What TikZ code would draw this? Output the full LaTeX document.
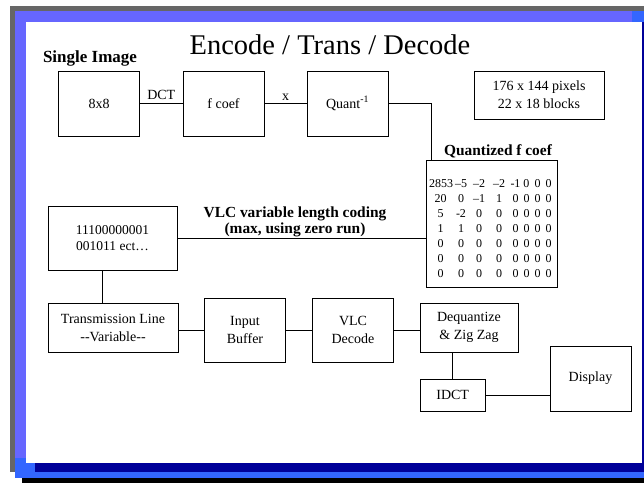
\documentclass[tikz,border=0pt]{standalone}
\usepackage{fontspec}
\setmainfont{Liberation Serif}
\usepackage{array}
\usetikzlibrary{positioning}
\newcolumntype{C}[1]{>{\centering\arraybackslash}p{#1}}
\definecolor{framegray}{RGB}{102,102,102}
\definecolor{framelilac}{RGB}{102,102,255}
\definecolor{frameblue}{RGB}{51,102,255}
\definecolor{framenavy}{RGB}{0,0,153}

\begin{document}
\begin{tikzpicture}[x=1pt, y=-1pt, line width=0.9pt,
  blk/.style={draw, inner sep=0pt, align=center, font=\fontsize{14}{18}\selectfont},
  lbl/.style={font=\fontsize{14}{17}\selectfont, inner sep=3pt},
  head/.style={anchor=base, font=\bfseries\fontsize{15.4}{19}\selectfont}]
  \useasboundingbox (0,0) rectangle (644,483);
  \fill[white] (0,0) rectangle (644,483);
  \fill[framegray] (10,6) rectangle (644,472);
  \fill[frameblue] (15,11) rectangle (644,478);
  \fill[framelilac] (15,11) rectangle (632,458);
  \fill[framenavy] (35,22) rectangle (644,472);
  \fill[black] (22,478) rectangle (644,483);
  \fill[white] (26,22) rectangle (642,463);

  \node[anchor=base, font=\fontsize{28.5}{32}\selectfont] (title) at (330,54) {Encode / Trans / Decode};
  \node[head, font=\bfseries\fontsize{17}{20}\selectfont] (single) at (90,62) {Single Image};

  \node[blk, minimum width=81, minimum height=65] (img) at (99,103.5) {8x8};
  \node[blk, minimum width=81, minimum height=65] (fcoef) at (223.5,103.5) {f coef};
  \node[blk, minimum width=81, minimum height=65] (quant) at (347.5,103.5) {Quant\textsuperscript{-1}};
  \node[blk, minimum width=130, minimum height=48] (dims) at (539,95) {176 x 144 pixels\\22 x 18 blocks};

  \node[head] (qlabel) at (498,155) {Quantized f coef};
  \node[draw, inner sep=0pt, minimum width=131, minimum height=127,
        font=\fontsize{12}{15}\selectfont] (qmat) at (491.5,223.5) {%
    \begin{tabular}{@{}C{23pt}@{}C{18pt}@{}C{18pt}@{}C{22pt}@{}C{11pt}@{}C{11pt}@{}C{11pt}@{}C{11pt}@{}}
      \noalign{\vskip 12pt}
      2853 & –5 & –2 & –2 & -1 & 0 & 0 & 0\\
      20 & 0 & –1 & 1 & 0 & 0 & 0 & 0\\
      5 & -2 & 0 & 0 & 0 & 0 & 0 & 0\\
      1 & 1 & 0 & 0 & 0 & 0 & 0 & 0\\
      0 & 0 & 0 & 0 & 0 & 0 & 0 & 0\\
      0 & 0 & 0 & 0 & 0 & 0 & 0 & 0\\
      0 & 0 & 0 & 0 & 0 & 0 & 0 & 0
    \end{tabular}};

  \node[blk, minimum width=129, minimum height=64, font=\fontsize{13.5}{16}\selectfont] (bits) at (112.5,238) {11100000001\\001011 ect\ldots};
  \node[head] (vlc1) at (295,217) {VLC variable length coding};
  \node[head] (vlc2) at (295,233) {(max, using zero run)};

  \node[blk, minimum width=130, minimum height=49] (trans) at (113,327.5) {Transmission Line\\-{}-Variable-{}-};
  \node[blk, minimum width=81.5, minimum height=64] (inbuf) at (245,330) {Input\\Buffer};
  \node[blk, minimum width=81, minimum height=64] (vlcdec) at (353,330) {VLC\\Decode};
  \node[blk, minimum width=98, minimum height=49] (deq) at (469,327.5) {Dequantize\\\& Zig Zag};
  \node[blk, minimum width=65.5, minimum height=32] (idct) at (452.7,395) {IDCT};
  \node[blk, minimum width=81, minimum height=65] (disp) at (590.5,378.5) {Display};

  \draw (img) -- node[lbl, above] {DCT} (fcoef);
  \draw (fcoef) -- node[lbl, above] {x} (quant);
  \draw (quant.east) -| ([xshift=5.5pt]qmat.north west);
  \draw (bits.east) -- (bits.east -| qmat.west);
  \draw ([xshift=-10.5pt]bits.south) -- ([xshift=-10.5pt]bits.south |- trans.north);
  \draw (inbuf.west) -- (inbuf.west -| trans.east);
  \draw (inbuf) -- (vlcdec);
  \draw (vlcdec.east) -- (vlcdec.east -| deq.west);
  \draw (idct.north) -- (idct.north |- deq.south);
  \draw (idct.east) -- (idct.east -| disp.west);
\end{tikzpicture}
\end{document}
